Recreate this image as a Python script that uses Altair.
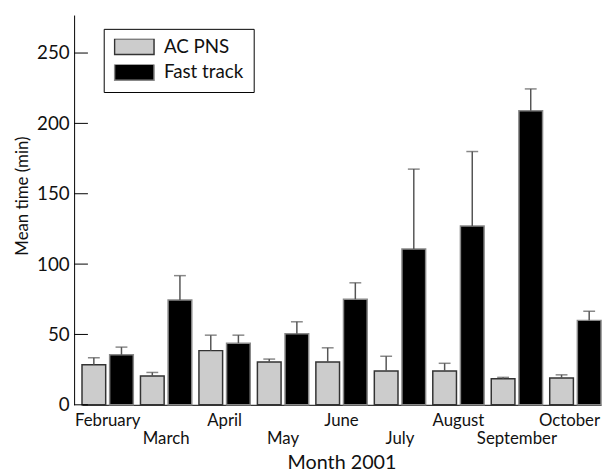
import altair as alt
import pandas as pd

months = ["February", "March", "April", "May", "June", "July", "August", "September", "October"]
series = ["AC PNS", "Fast track"]
ac_mean = [28.5, 20.5, 38.5, 30.5, 30.5, 24, 24, 18.5, 19]
ac_upper = [33.5, 23, 49.5, 32.5, 40.5, 34.5, 29.5, 19.5, 21.3]
fast_mean = [35.5, 74.5, 43.8, 50.5, 75, 110.7, 127, 209, 60]
fast_upper = [41, 91.8, 49.5, 59, 86.7, 167.5, 180, 224.5, 66.5]
y_ticks = [0, 50, 100, 150, 200, 250]

rows = []
for i, m in enumerate(months):
    rows.append({"month": m, "series": series[0], "mean": ac_mean[i], "upper": ac_upper[i]})
    rows.append({"month": m, "series": series[1], "mean": fast_mean[i], "upper": fast_upper[i]})
df = pd.DataFrame(rows)
ticks_df = pd.DataFrame({"tick": y_ticks})

FONT = "Lato"
lower_row = ["March", "May", "July", "September"]

x_enc = alt.X(
    "month:N",
    sort=months,
    scale=alt.Scale(range=[8, 534], paddingInner=0.1224, paddingOuter=0),
    axis=alt.Axis(
        title="Month 2001",
        labelAngle=0,
        ticks=False,
        grid=False,
        domainColor="black",
        labelFont=FONT,
        labelFontSize=17,
        labelColor="#111",
        labelPadding=8,
        labelLineHeight=18.5,
        labelBaseline="top",
        labelOffset={"condition": {"test": "datum.value === 'October'", "value": -6}, "value": 0},
        labelExpr="indexof(" + str(lower_row) + ", datum.value) >= 0 ? ['', datum.value] : datum.value",
        titleFont=FONT,
        titleFontSize=20,
        titleFontWeight="normal",
        titleColor="#111",
        titlePadding=6,
    ),
)
xoff = alt.XOffset("series:N", sort=series, scale=alt.Scale(paddingInner=0.143, paddingOuter=0))
y_scale = alt.Scale(domain=[0, 277], nice=False)

base = alt.Chart(df)

bars = base.mark_bar(strokeWidth=1.5).encode(
    x=x_enc,
    xOffset=xoff,
    y=alt.Y(
        "mean:Q",
        scale=y_scale,
        axis=alt.Axis(
            title="Mean time (min)",
            values=y_ticks,
            ticks=False,
            grid=False,
            domainColor="black",
            labelFont=FONT,
            labelFontSize=19,
            labelColor="#111",
            labelPadding=5,
            titleFont=FONT,
            titleFontSize=17,
            titleFontWeight="normal",
            titleColor="#111",
            titleX=-43,
            titleY=183,
        ),
    ),
    fill=alt.Fill(
        "series:N",
        sort=series,
        scale=alt.Scale(domain=series, range=["#cccccc", "#000000"]),
        legend=alt.Legend(
            title=None,
            orient="none",
            legendX=30,
            legendY=14,
            direction="vertical",
            padding=10,
            strokeColor="black",
            fillColor="white",
            symbolType="M-1,-0.4H1V0.4H-1Z",
            symbolSize=1600,
            symbolStrokeColor="#333",
            symbolStrokeWidth=1.5,
            clipHeight=16,
            rowPadding=7,
            labelFont=FONT,
            labelFontSize=19,
            labelColor="#111",
            labelOffset=9,
        ),
    ),
    stroke=alt.Stroke(
        "series:N",
        sort=series,
        scale=alt.Scale(domain=series, range=["#333333", "#888888"]),
        legend=None,
    ),
)

err = base.mark_rule(color="#555", strokeWidth=1.5).encode(
    x=alt.X("month:N", sort=months),
    xOffset=xoff,
    y=alt.Y("mean:Q", scale=y_scale),
    y2="upper:Q",
)

caps = base.mark_tick(color="#555", thickness=1.5, size=12).encode(
    x=alt.X("month:N", sort=months),
    xOffset=xoff,
    y=alt.Y("upper:Q", scale=y_scale),
)

yticks = alt.Chart(ticks_df).mark_rule(color="black", strokeWidth=1).encode(
    x=alt.value(0),
    x2=alt.value(14),
    y=alt.Y("tick:Q", scale=y_scale),
)

chart = (
    alt.layer(bars, err, caps, yticks)
    .properties(
        width=536,
        height=395,
        autosize=alt.AutoSizeParams(type="none"),
        padding={"left": 67, "top": 4, "right": 0, "bottom": 68},
        background="white",
    )
    .configure_view(stroke=None)
)

chart.save("out.html", embed_options={"renderer": "svg", "actions": False})
